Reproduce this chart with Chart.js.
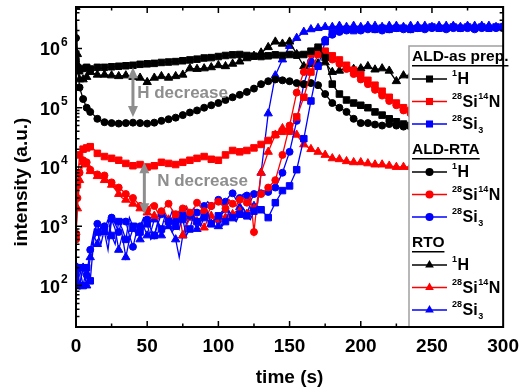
<!DOCTYPE html>
<html>
<head>
<meta charset="utf-8">
<script src="https://cdn.jsdelivr.net/npm/chart.js@4.4.1/dist/chart.umd.min.js"></script>
<style>
  html, body { margin: 0; padding: 0; background: #fff; }
  #wrap { width: 527px; height: 391px; }
</style>
</head>
<body>
<div id="wrap"><canvas id="chart" width="527" height="391"></canvas></div>
<script>
"use strict";
// ========== DATA ========== //
// sputter time (s) for the smooth profiles
const time = [0, 1, 2.5, 5, 7.5, 10, 12.5, 15, 17.5, 20, 25, 30, 35, 40, 45, 50, 55, 60, 65, 70,
  75, 80, 85, 90, 95, 100, 105, 110, 115, 120, 125, 130, 135, 140, 145, 150, 155, 160, 165, 170,
  175, 180, 185, 190, 195, 200, 205, 210, 215, 220, 225, 230, 235];
// sputter time (s) for the noisy profiles (finer before 130 s)
const timeFine = [0, 1, 2.5, 5, 7.5, 10, 12.5, 15, 17.5, 20, 22.5, 25, 27.5, 30, 32.5, 35, 37.5,
  40, 42.5, 45, 47.5, 50, 52.5, 55, 57.5, 60, 62.5, 65, 67.5, 70, 72.5, 75, 77.5, 80, 82.5, 85,
  87.5, 90, 92.5, 95, 97.5, 100, 102.5, 105, 107.5, 110, 112.5, 115, 117.5, 120, 122.5, 125,
  127.5, 130, 135, 140, 145, 150, 155, 160, 165, 170, 175, 180, 185, 190, 195, 200, 205, 210,
  215, 220, 225, 230, 235, 240, 245, 250, 255, 260, 265, 270, 275, 280, 285, 290, 295, 300];

// ALD-as prep. (squares)
const asH = [6e5, 4.5e5, 4.2e5, 4.6e5, 4.8e5, 4.5e5, 4.7e5, 4.8e5, 4.6e5, 4.8e5, 4.9e5, 5e5, 5.1e5,
  5.2e5, 5.4e5, 5.5e5, 5.6e5, 5.8e5, 5.9e5, 6e5, 6.2e5, 6.4e5, 6.6e5, 6.9e5, 7e5, 7.3e5, 7.6e5,
  7.8e5, 7.9e5, 7.6e5, 7.4e5, 7.3e5, 7.5e5, 7.8e5, 7.6e5, 7.9e5, 7.7e5, 7.9e5, 9e5, 1.05e6, 7e5,
  2.5e5, 1.7e5, 1.35e5, 1.2e5, 1.1e5, 1e5, 8.5e4, 7.5e4, 6.5e4, 5.8e4, 5.3e4, 5e4];
const asN = [700, 5e3, 1.6e4, 2e4, 2.1e4, 2.2e4, 2e4, 1.7e4, 1.6e4, 1.5e4, 1.4e4, 1.3e4, 1.15e4,
  1.05e4, 1.1e4, 1e4, 1.05e4, 1.2e4, 1.15e4, 1.1e4, 1.2e4, 1.3e4, 1.4e4, 1.5e4, 1.35e4, 1.3e4,
  1.6e4, 1.9e4, 1.8e4, 1.9e4, 2.1e4, 2.4e4, 2.8e4, 3.5e4, 4e4, 4e4, 7e4, 1.5e5, 4e5, 8e5, 9e5,
  7.5e5, 6.4e5, 5.2e5, 4.3e5, 3.6e5, 2.9e5, 2.4e5, 1.9e5, 1.5e5, 1.2e5, 1e5, 9e4];
const asSi = [200, 100, 200, 100, 200, 120, 600, 800, 500, 900, 1300, 700, 500, 1200, 900, 600,
  1400, 1000, 700, 800, 1300, 1100, 600, 700, 1200, 900, 1500, 1200, 800, 1000, 1400, 1300, 700,
  900, 1500, 1200, 1000, 1400, 1700, 1100, 1300, 1500, 1000, 1200, 1800, 1400, 1200, 1600, 2000,
  1500, 1300, 1800, 2200, 1900,
  1400, 2500, 4000, 4800, 9e3, 3e4, 1.3e5, 5e5, 1.3e6, 1.8e6, 2e6, 2.1e6, 2e6, 2.1e6, 2.2e6,
  2.1e6, 2.2e6, 2.1e6, 2.2e6, 2.2e6, 2.1e6, 2.2e6, 2.2e6, 2.3e6, 2.2e6, 2.2e6, 2.3e6, 2.2e6,
  2.3e6, 2.2e6, 2.3e6, 2.2e6, 2.3e6, 2.3e6];

// ALD-RTA (circles)
const rtaH = [1.5e6, 5e5, 2.2e5, 1.4e5, 1e5, 8.5e4, 7.5e4, 6.5e4, 6e4, 5.7e4, 5.5e4, 5.4e4, 5.5e4,
  5.6e4, 5.5e4, 5.4e4, 5.6e4, 6e4, 6.4e4, 6.8e4, 7.5e4, 8.3e4, 9e4, 1e5, 1.1e5, 1.2e5, 1.35e5,
  1.5e5, 1.65e5, 1.85e5, 2.1e5, 2.5e5, 2.8e5, 3e5, 2.9e5, 2.8e5, 2.6e5, 2.5e5, 2.6e5, 2.4e5,
  1.7e5, 1.2e5, 1e5, 8.5e4, 6.5e4, 5.5e4, 5.5e4, 5.2e4, 5e4, 5.3e4, 5e4, 4.8e4, 4.8e4];
const rtaN = [600, 3000, 8000, 1.3e4, 1.2e4, 9000, 8500, 7500, 7000, 7200, 6000, 5500, 5000, 4500,
  4000, 3500, 3200, 3000, 2600, 2200, 2000, 1900, 2300, 2200, 1700, 1800, 2100, 2400, 1900, 1600,
  1800, 2000, 2200, 1700, 1900, 2500, 2100, 1800, 1600, 2200, 2500, 2600, 2300, 2000, 2800, 2400,
  2200, 2800, 3000, 2500, 3200, 800, 3000, 3500,
  4500, 6000, 1.6e4, 5e4, 1.8e5, 4e5, 8e5, 1e6, 8.5e5, 6.5e5, 5.5e5, 4.5e5, 3.7e5, 3e5, 2.5e5,
  2e5, 1.6e5, 1.3e5, 1.1e5, 9e4, 8e4];
const rtaSi = [150, 200, 100, 200, 150, 400, 800, 1100, 700, 1000, 600, 1400, 1100, 800, 1300,
  1200, 700, 450, 800, 1000, 1400, 1300, 900, 700, 1100, 1600, 1500, 1200, 1800, 1200, 900, 1600,
  2000, 1500, 2000, 1700, 1800, 2200, 2600, 2200, 2400, 2800, 2300, 2600, 3200, 3600, 2800, 3000,
  3500, 3300, 2600, 3500, 3800, 3600,
  3800, 4500, 8e3, 1.8e4, 6e4, 2.5e5, 6e5, 1e6, 1.4e6, 1.7e6, 1.9e6, 2e6, 2.1e6, 2e6, 2.1e6,
  2.1e6, 2e6, 2.1e6, 2.2e6, 2.1e6, 2.1e6, 2.2e6, 2.1e6, 2.2e6, 2.2e6, 2.1e6, 2.2e6, 2.2e6, 2.2e6,
  2.1e6, 2.2e6, 2.2e6, 2.2e6, 2.2e6];

// RTO (triangles)
const rtoH = [5e6, 8e5, 3e5, 3e5, 3.3e5, 4e5, 3.8e5, 3.6e5, 3.5e5, 3.6e5, 3.5e5, 3.4e5, 3.5e5,
  3.3e5, 3.2e5, 2.7e5, 3.2e5, 3.4e5, 3.2e5, 3.4e5, 3.6e5, 4.6e5, 4.5e5, 4.6e5, 4.8e5, 5.2e5, 5e5,
  5.5e5, 6e5, 6.8e5, 7.5e5, 8.5e5, 1.05e6, 1.3e6, 1.2e6, 1.3e6, 8e5, 5e5, 5.4e5, 5.6e5, 5.8e5,
  4e5, 4.2e5, 4.8e5, 4.5e5, 4.6e5, 5e5, 4.4e5, 4.6e5, 4.2e5, 2.8e5, 3.5e5, 3.5e5];
const rtoN = [800, 2000, 6000, 1.2e4, 1.1e4, 8500, 8000, 7000, 6500, 6000, 5500, 5000, 4200, 3500,
  3000, 2800, 2600, 2400, 2200, 2000, 1800, 1700, 1600, 1500, 1300, 1600, 1700, 1300, 1200, 1500,
  1800, 700, 1000, 1400, 1600, 1200, 1100, 950, 1300, 1500, 1200, 1300, 1500, 1400, 1600, 1600,
  1800, 1800, 1500, 1600, 1900, 2000, 2500, 8000,
  1.8e4, 3.5e4, 4.5e4, 4.3e4, 3.5e4, 2.4e4, 2e4, 1.8e4, 1.6e4, 1.4e4, 1.35e4, 1.25e4, 1.2e4,
  1.2e4, 1.15e4, 1.1e4, 1.1e4, 1.05e4, 1e4, 1e4, 1e4];
const rtoSi = [100, 200, 100, 200, 100, 300, 700, 500, 1000, 800, 400, 1300, 900, 400, 700, 300,
  600, 900, 1100, 600, 1000, 700, 800, 1300, 1200, 700, 900, 1000, 800, 600, 300, 700, 1100, 1400,
  1300, 900, 1200, 1500, 1500, 1100, 1300, 1000, 1600, 1900, 1800, 1400, 1700, 2100, 2000, 1600,
  2400, 2200, 2400, 8000,
  8e4, 3.5e5, 6.5e5, 1.1e6, 1.5e6, 1.9e6, 2.1e6, 2.2e6, 2.3e6, 2.3e6, 2.4e6, 2.3e6, 2.4e6, 2.3e6,
  2.4e6, 2.4e6, 2.3e6, 2.4e6, 2.4e6, 2.3e6, 2.4e6, 2.4e6, 2.4e6, 2.3e6, 2.4e6, 2.4e6, 2.4e6,
  2.3e6, 2.4e6, 2.4e6, 2.4e6, 2.4e6, 2.3e6, 2.4e6];

// axes
const xTicks = [0, 50, 100, 150, 200, 250, 300];
const yDecades = [2, 3, 4, 5, 6];

// legend
const groupNames = ["ALD-as prep.", "ALD-RTA", "RTO"];
const groupMarkers = ["rect", "circle", "triangle"];
const speciesColors = ["#000000", "#ff0000", "#0000ff"];
const speciesParts = [
  [["sup", "1"], ["n", "H"]],
  [["sup", "28"], ["n", "Si"], ["sup", "14"], ["n", "N"]],
  [["sup", "28"], ["n", "Si"], ["sub", "3"]]
];

// annotations (time, from, to) and labels (time, intensity)
const arrowTime = [40, 48];
const arrowFrom = [4.8e5, 1.2e4];
const arrowTo = [7e4, 1.6e3];
const noteText = ["H decrease", "N decrease"];
const noteTime = [43, 57];
const noteValue = [1.75e5, 5.7e3];

// ========== CHART ========== //
const FONT = "'Liberation Sans', Arial, sans-serif";
Chart.defaults.font.family = FONT;

function makeSet(label, times, values, color, style) {
  let r = style === "rect" ? 4.6 : (style === "triangle" ? 4.8 : 3.5);
  return {
    label: label,
    data: values.map((v, i) => ({ x: times[i], y: v })),
    borderColor: color,
    backgroundColor: color,
    pointBorderColor: color,
    pointBackgroundColor: color,
    borderWidth: 1.3,
    pointStyle: style,
    // markers only every 5 s, the line keeps every sample
    pointRadius: c => (c.raw && (c.raw.x % 5 === 0 || c.raw.x < 10) ? r : 0),
    pointBorderWidth: 1,
    tension: 0
  };
}

const seriesList = [
  [[time, asH], [time, asN], [timeFine, asSi]],
  [[time, rtaH], [timeFine, rtaN], [timeFine, rtaSi]],
  [[time, rtoH], [timeFine, rtoN], [timeFine, rtoSi]]
];
const datasets = [];
seriesList.forEach((group, g) => {
  group.forEach((pair, s) => {
    datasets.push(makeSet(groupNames[g] + " " + s, pair[0], pair[1], speciesColors[s], groupMarkers[g]));
  });
});

function drawMarker(ctx, style, x, y, r) {
  ctx.beginPath();
  if (style === "rect") {
    let s = r * Math.SQRT1_2;
    ctx.rect(x - s, y - s, 2 * s, 2 * s);
  } else if (style === "triangle") {
    ctx.moveTo(x, y - r);
    ctx.lineTo(x + r * 0.866, y + r * 0.5);
    ctx.lineTo(x - r * 0.866, y + r * 0.5);
    ctx.closePath();
  } else {
    ctx.arc(x, y, r, 0, Math.PI * 2);
  }
  ctx.fill();
}

function drawSpecies(ctx, parts, x, y) {
  ctx.textAlign = "left";
  ctx.textBaseline = "middle";
  for (let p of parts) {
    let dy = 0;
    if (p[0] === "n") ctx.font = "bold 16px " + FONT;
    else ctx.font = "bold 9px " + FONT;
    if (p[0] === "sup") dy = -6;
    if (p[0] === "sub") dy = 6;
    ctx.fillText(p[1], x, y + dy + 1);
    x += ctx.measureText(p[1]).width + 0.5;
  }
}

const framePlugin = {
  id: "frame",
  afterDraw(chart) {
    const ctx = chart.ctx;
    const a = chart.chartArea;
    const xs = chart.scales.x;
    const ys = chart.scales.y;
    ctx.save();

    // annotations
    ctx.strokeStyle = "#8e8e8e";
    ctx.fillStyle = "#8e8e8e";
    for (let i = 0; i < arrowTime.length; i++) {
      let px = xs.getPixelForValue(arrowTime[i]);
      let y1 = ys.getPixelForValue(arrowFrom[i]);
      let y2 = ys.getPixelForValue(arrowTo[i]);
      ctx.lineWidth = 3;
      ctx.beginPath();
      ctx.moveTo(px, y1 + 8);
      ctx.lineTo(px, y2 - 8);
      ctx.stroke();
      ctx.beginPath();
      ctx.moveTo(px, y1); ctx.lineTo(px + 5, y1 + 11); ctx.lineTo(px - 5, y1 + 11); ctx.closePath();
      ctx.moveTo(px, y2); ctx.lineTo(px + 5, y2 - 11); ctx.lineTo(px - 5, y2 - 11); ctx.closePath();
      ctx.fill();
      ctx.font = "bold 17px " + FONT;
      ctx.textAlign = "left";
      ctx.textBaseline = "middle";
      ctx.fillText(noteText[i], xs.getPixelForValue(noteTime[i]), ys.getPixelForValue(noteValue[i]));
    }

    // inward ticks on all four sides
    ctx.strokeStyle = "#000";
    ctx.lineWidth = 1.5;
    ctx.beginPath();
    for (let v = 0; v <= 300; v += 25) {
      let px = xs.getPixelForValue(v);
      let len = v % 50 === 0 ? 6 : 3.5;
      ctx.moveTo(px, a.bottom); ctx.lineTo(px, a.bottom - len);
      ctx.moveTo(px, a.top); ctx.lineTo(px, a.top + len);
    }
    for (let e = 1; e <= 6; e++) {
      for (let m = 1; m <= 9; m++) {
        let v = m * Math.pow(10, e);
        if (v < ys.min || v > ys.max) continue;
        let py = ys.getPixelForValue(v);
        let len = m === 1 ? 6 : 3.5;
        ctx.moveTo(a.left, py); ctx.lineTo(a.left + len, py);
        ctx.moveTo(a.right, py); ctx.lineTo(a.right - len, py);
      }
    }
    ctx.stroke();

    // y tick labels 10^n
    ctx.fillStyle = "#000";
    for (let d of yDecades) {
      let py = ys.getPixelForValue(Math.pow(10, d));
      ctx.font = "bold 18px " + FONT;
      ctx.textAlign = "right";
      ctx.textBaseline = "middle";
      ctx.fillText("10", 60, py + 2);
      ctx.font = "bold 12px " + FONT;
      ctx.textAlign = "left";
      ctx.fillText(String(d), 61, py - 6);
    }

    // y title
    ctx.save();
    ctx.translate(22, 182);
    ctx.rotate(-Math.PI / 2);
    ctx.font = "bold 19px " + FONT;
    ctx.textAlign = "center";
    ctx.textBaseline = "middle";
    ctx.fillText("intensity (a.u.)", 0, 0);
    ctx.restore();

    // legend box
    let lx = 409, ly = 46;
    ctx.fillStyle = "#fff";
    ctx.fillRect(lx, ly, a.right - lx, a.bottom - ly);
    ctx.strokeStyle = "#a0a0a0";
    ctx.lineWidth = 1.5;
    ctx.beginPath();
    ctx.moveTo(lx, a.bottom); ctx.lineTo(lx, ly); ctx.lineTo(a.right, ly);
    ctx.stroke();

    groupNames.forEach((name, g) => {
      let gy = 57 + g * 93;
      ctx.fillStyle = "#000";
      ctx.font = "bold 15.5px " + FONT;
      ctx.textAlign = "left";
      ctx.textBaseline = "middle";
      ctx.fillText(name, 412, gy);
      let w = ctx.measureText(name).width;
      ctx.fillRect(412, gy + 8, w, 1.5);
      speciesColors.forEach((col, s) => {
        let ry = gy + 22 + s * 22.5;
        ctx.strokeStyle = col;
        ctx.fillStyle = col;
        ctx.lineWidth = 1.3;
        ctx.beginPath();
        ctx.moveTo(412, ry); ctx.lineTo(447, ry);
        ctx.stroke();
        let r = groupMarkers[g] === "circle" ? 4 : 5;
        drawMarker(ctx, groupMarkers[g], 429.5, ry, r);
        ctx.fillStyle = "#000";
        drawSpecies(ctx, speciesParts[s], 452, ry);
      });
    });

    // frame
    ctx.strokeStyle = "#000";
    ctx.lineWidth = 2;
    ctx.strokeRect(a.left, a.top, a.right - a.left, a.bottom - a.top);
    ctx.restore();
  }
};

new Chart(document.querySelector("#chart"), {
  type: "line",
  data: { datasets: datasets },
  options: {
    responsive: false,
    animation: false,
    devicePixelRatio: 1,
    layout: { padding: { left: 0, top: 7, right: 18, bottom: 0 } },
    plugins: { legend: { display: false }, tooltip: { enabled: false } },
    scales: {
      x: {
        type: "linear",
        min: 0,
        max: 300,
        afterBuildTicks: s => { s.ticks = xTicks.map(v => ({ value: v })); },
        afterFit: s => { s.height = 64; },
        grid: { display: false, drawTicks: false },
        border: { display: false },
        ticks: { color: "#000", font: { size: 19, weight: "bold" }, padding: 8, maxRotation: 0 },
        title: { display: true, text: "time (s)", color: "#000", font: { size: 19, weight: "bold" }, padding: { top: 0, bottom: 2 } }
      },
      y: {
        type: "logarithmic",
        min: 20,
        max: 5e6,
        afterFit: s => { s.width = 76; },
        grid: { display: false, drawTicks: false },
        border: { display: false },
        ticks: { display: false }
      }
    }
  },
  plugins: [framePlugin]
});
</script>
